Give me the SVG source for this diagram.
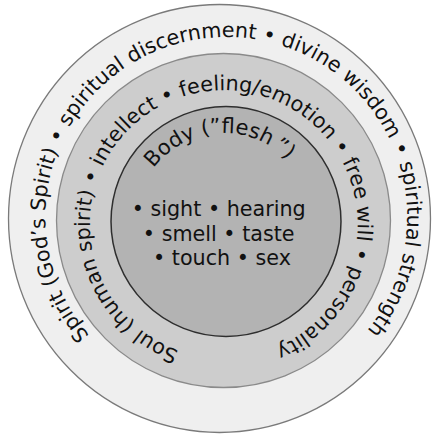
<svg xmlns="http://www.w3.org/2000/svg" width="437" height="436" viewBox="0 0 437 436">
<style>
  .lbl { font-family: "DejaVu Sans", Verdana, sans-serif; font-size: 20.7px; fill: #111; }
  .ring { stroke-width: 1.3; }
</style>
<defs>
  <path id="arcOuter" d="M229.44,397.07 A180,180 0 1 1 223.16,37.13 A180,180 0 1 1 229.44,397.07"/>
  <path id="arcMiddle" d="M227.44,358.15 A134,134 0 1 1 219.96,90.25 A134,134 0 1 1 227.44,358.15"/>
  <path id="arcInner" d="M229.37,308.84 A88,88 0 1 1 218.63,133.16 A88,88 0 1 1 229.37,308.84"/>
</defs>
<rect width="437" height="436" fill="#ffffff"/>
<g id="spirit">
  <ellipse class="ring" cx="219.5" cy="218.5" rx="211" ry="214" fill="#efefef" stroke="#7a7a7a"/>
  <text class="lbl"><textPath href="#arcOuter" startOffset="50%" text-anchor="middle">Spirit (God’s Spirit) • spiritual discernment • divine wisdom • spiritual strength</textPath></text>
</g>
<g id="soul">
  <circle class="ring" cx="223.5" cy="220.5" r="167" fill="#cdcdcd" stroke="#8a8a8a"/>
  <text class="lbl"><textPath href="#arcMiddle" startOffset="50%" text-anchor="middle">Soul (human spirit) • intellect • feeling/emotion • free will • personality</textPath></text>
</g>
<g id="body">
  <circle cx="226" cy="221.5" r="115" fill="#b3b3b3" stroke="#2e2e2e" stroke-width="1.5"/>
  <text class="lbl" style="font-size:21px"><textPath href="#arcInner" startOffset="50%" text-anchor="middle">Body (”flesh<tspan dx="4">”)</tspan></textPath></text>
  <text class="lbl" text-anchor="middle">
    <tspan x="222" y="216">• sight • hearing</tspan>
    <tspan x="222" y="240.5">• smell • taste</tspan>
    <tspan x="222" y="265">• touch • sex</tspan>
  </text>
</g>
<g id="connectors"/>
</svg>
